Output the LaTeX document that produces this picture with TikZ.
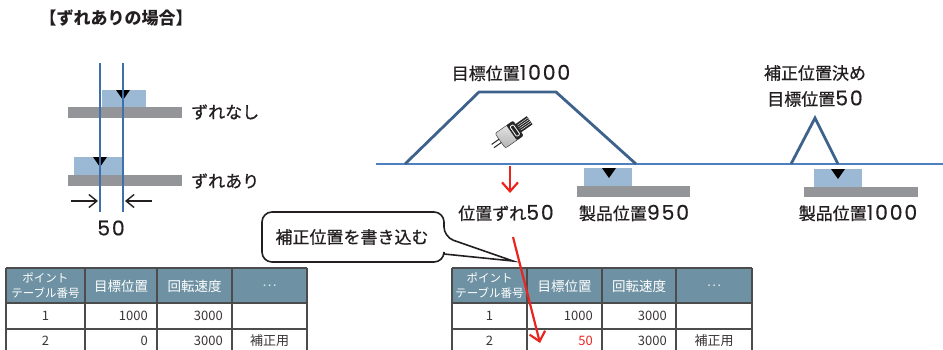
\documentclass[tikz,border=0pt]{standalone}
\usepackage{fontspec}
\setmainfont{Noto Sans CJK JP}
\newfontfamily\labelfont{Noto Sans CJK JP}[FakeBold=0.7]
\newfontfamily\digitfont{Poppins}[Scale=1.2, LetterSpace=9, FakeBold=0.5]
\usetikzlibrary{arrows.meta}
\definecolor{ink}{RGB}{35, 31, 32}
\definecolor{guideblue}{RGB}{62, 112, 172}
\definecolor{axisblue}{RGB}{78, 128, 192}
\definecolor{workblue}{RGB}{155, 184, 212}
\definecolor{stagegray}{RGB}{147, 149, 152}
\definecolor{moveblue}{RGB}{62, 98, 140}
\definecolor{headteal}{RGB}{110, 146, 163}
\definecolor{alertred}{RGB}{232, 37, 31}
\newcommand{\dg}[1]{{\digitfont #1}}
\newcommand{\pointtable}[8]{%
  \fill[headteal] (#2,268) rectangle (#6,303);
  \foreach \ry in {268,303,329} \draw[grid] (#2,\ry) -- (#6,\ry);
  \foreach \cx in {#2,#3,#4,#5,#6} \draw[grid] (\cx,268) -- (\cx,360);
  \node[headtxt, font=\fontsize{11.5}{15}\selectfont] (#1-no) at ({(#2+#3)/2},286) {ポイント\\テーブル番号};
  \node[headtxt] (#1-pos) at ({(#3+#4)/2},286) {目標位置};
  \node[headtxt] (#1-spd) at ({(#4+#5)/2},286) {回転速度};
  \node[headtxt, text=white!75!headteal] (#1-etc) at ({(#5+#6)/2},286) {…};
  \node[celltxt] (#1-no1) at ({(#2+#3)/2},316) {1};
  \node[celltxt, anchor=east] (#1-pos1) at (#4-9,316) {1000};
  \node[celltxt, anchor=east] (#1-spd1) at (#5-9,316) {3000};
  \node[celltxt] (#1-no2) at ({(#2+#3)/2},341) {2};
  \node[celltxt, anchor=east, text=#8] (#1-pos2) at (#4-9,341) {#7};
  \node[celltxt, anchor=east] (#1-spd2) at (#5-9,341) {3000};
  \node[celltxt] (#1-use2) at ({(#5+#6)/2},341) {補正用};
}

\begin{document}
\begin{tikzpicture}[x=1pt, y=-1pt,
  lbl/.style={font=\labelfont\fontsize{17}{26}\selectfont, text=ink, inner sep=0pt},
  work/.style={fill=workblue},
  stage/.style={fill=stagegray},
  posmark/.style={fill=black},
  guide/.style={draw=guideblue, line width=1.5pt},
  axis/.style={draw=axisblue, line width=1.1pt},
  move/.style={draw=moveblue, line width=2.8pt, line join=miter},
  dim/.style={draw=ink, line width=1.4pt, -{Straight Barb[length=8pt, width=13pt]}},
  alert/.style={draw=alertred, line width=2.2pt, -{Straight Barb[length=9pt, width=16pt]}},
  grid/.style={draw=black!70, line width=1.1pt},
  headtxt/.style={font=\fontsize{13.5}{15}\selectfont, text=white, align=center, inner sep=0pt},
  celltxt/.style={font=\fontsize{13}{15}\selectfont, text=ink!90, inner sep=0pt}]
  \useasboundingbox (0,0) rectangle (943,349);
  \clip (0,0) rectangle (943,349);

  \node[lbl, font=\bfseries\fontsize{17}{19}\selectfont] (title) at (116,18) {【ずれありの場合】};

  \fill[work] (102,90) rectangle (146,107);
  \fill[stage] (68,107) rectangle (182,118);
  \fill[posmark] (116,90) -- (130,90) -- (123,100) -- cycle;
  \fill[work] (74,157) rectangle (123,175);
  \fill[stage] (68,175) rectangle (182,186);
  \fill[posmark] (93,157) -- (107,157) -- (100,167) -- cycle;
  \draw[guide] (100,63) -- (100,212);
  \draw[guide] (123,63) -- (123,212);
  \node[lbl, anchor=west] (noshift) at (191,112) {ずれなし};
  \node[lbl, anchor=west] (shifted) at (191,181) {ずれあり};
  \coordinate (dimL) at (71,201);
  \coordinate (gapL) at (98,201);
  \coordinate (dimR) at (152,201);
  \coordinate (gapR) at (125,201);
  \draw[dim] (dimL) -- (gapL);
  \draw[dim] (dimR) -- (gapR);
  \node[lbl] (gap) at (111,228) {\dg{50}};

  \draw[axis] (376,164) -- (943,164);
  \draw[move] (405,164) -- (479,92) -- (556,92) -- (636,164);
  \node[lbl] (target) at (511,73) {目標位置\dg{1000}};
  \begin{scope}[shift={(510,134)}, rotate=35]
    \fill[black!85] (8,-5) rectangle (24,5);
    \foreach \sy in {-3,-1,1,3} \draw[white, line width=0.4pt] (11,\sy) -- (24,\sy);
    \draw[black!85, line width=1pt] (-10,-2) -- (-21,-2) (-10,2) -- (-21,2);
    \shade[top color=gray!15, bottom color=gray!60, draw=black!85, rounded corners=2pt] (-12,-9) rectangle (10,9);
    \fill[black!85, rounded corners=1pt] (2,-9) rectangle (10,9);
    \draw[white, line width=0.8pt, rounded corners=1pt] (4,-6) rectangle (8,6);
  \end{scope}
  \coordinate (dropA) at (510,166);
  \coordinate (dropB) at (510,193);
  \draw[alert] (dropA) -- (dropB);
  \node[lbl] (offset) at (506,213) {位置ずれ\dg{50}};
  \fill[work] (584,168) rectangle (632,186);
  \fill[stage] (577,186) rectangle (690,197);
  \fill[posmark] (602,168) -- (616,168) -- (609,178) -- cycle;
  \node[lbl] (prod950) at (634,213) {製品位置\dg{950}};

  \node[lbl, align=center] (fix) at (815,86) {補正位置決め\\目標位置\dg{50}};
  \draw[move] (791,164) -- (815,118) -- (838,164);
  \fill[work] (814,169) rectangle (862,187);
  \fill[stage] (804,187) rectangle (918,197);
  \fill[posmark] (831,169) -- (845,169) -- (838,179) -- cycle;
  \node[lbl] (prod1000) at (858,213) {製品位置\dg{1000}};

  \node[lbl] (note) at (352,237) {補正位置を書き込む};
  \draw[ink, line width=1.6pt, line join=miter] (513,261) -- (444,254) [rounded corners=10pt] -- (444,262) -- (262,262) -- (262,212) -- (444,212) -- (444,237) [sharp corners] -- cycle;

  \pointtable{before}{6}{85}{157}{232}{307}{0}{ink!90}
  \pointtable{after}{452}{527}{602}{676}{752}{50}{alertred}

  \coordinate (writeA) at (513,237);
  \coordinate (writeB) at (540,343);
  \draw[alert] (writeA) -- (writeB);
\end{tikzpicture}
\end{document}
